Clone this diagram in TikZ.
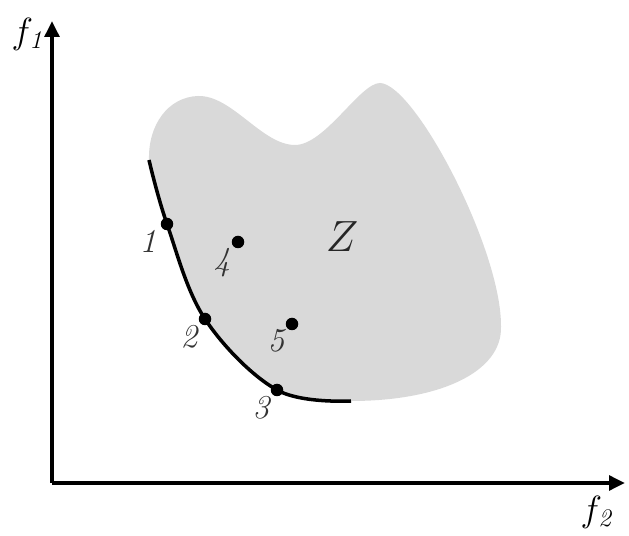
\documentclass[tikz,border=0pt]{standalone}
\usepackage{amsmath}
\usepackage{tikz}
\usetikzlibrary{arrows.meta,positioning,calc}
\definecolor{RegionGray}{RGB}{217,217,217}
\tikzset{
  axis/.style={
    line width=2.3pt,
    -{Triangle[length=3.2mm,width=2.9mm]}
  },
  front/.style={
    line width=2pt
  },
  dot/.style={
    circle,
    fill=black,
    inner sep=0pt,
    minimum size=0.25cm
  },
  numlabel/.style={
    font=\fontsize{19}{21}\selectfont\itshape,
    text=black!80,
    inner sep=0pt
  },
  axlabel/.style={
    font=\huge,
    inner sep=0pt
  }
}

\begin{document}
\begin{tikzpicture}[x=0.02cm,y=-0.02cm]

\useasboundingbox (0,0) rectangle (629,536);

% axes
\coordinate (O) at (52,483);
\coordinate (ytip) at (52,21);
\coordinate (xtip) at (625,483);
\node[axlabel] (f1) at (29,34) {$f_{\mathit{1}}$};
\node[axlabel] (f2) at (598,512) {$f_{\mathit{2}}$};

% pareto front
\coordinate (c0) at (149,160);
\coordinate (c1) at (167,224);
\coordinate (c2) at (205,319);
\coordinate (c3) at (277,390);
\coordinate (c4) at (351,401);

% attainable region
\fill[RegionGray] plot[smooth,tension=0.6] coordinates {(c0) (c1) (c2) (c3) (c4)}
  .. controls (440,401) and (502,372) .. (501,327)
  .. controls (502,250) and (415,84) .. (380,83)
  .. controls (360,83) and (325,145) .. (295,145)
  .. controls (262,145) and (232,95) .. (198,96)
  .. controls (168,97) and (148,125) .. (c0) -- cycle;

\draw[axis] (O) -- (ytip);
\draw[axis] (O) -- (xtip);

\draw[front] plot[smooth,tension=0.6] coordinates {(c0) (c1) (c2) (c3) (c4)};

\node[dot] (p1) at (c1) {};
\node[dot] (p2) at (c2) {};
\node[dot] (p3) at (c3) {};
\node[dot] (p4) at (238,242) {};
\node[dot] (p5) at (292,324) {};

\node[numlabel] (l1) at (148,241) {1};
\node[numlabel] (l2) at (189,337) {2};
\node[numlabel] (l3) at (261,408) {3};
\node[numlabel] (l4) at (222,263) {4};
\node[numlabel] (l5) at (276,341) {5};

\node[font=\fontsize{31}{33}\selectfont,text=black!85] (z) at (342,237) {$Z$};

\end{tikzpicture}
\end{document}
